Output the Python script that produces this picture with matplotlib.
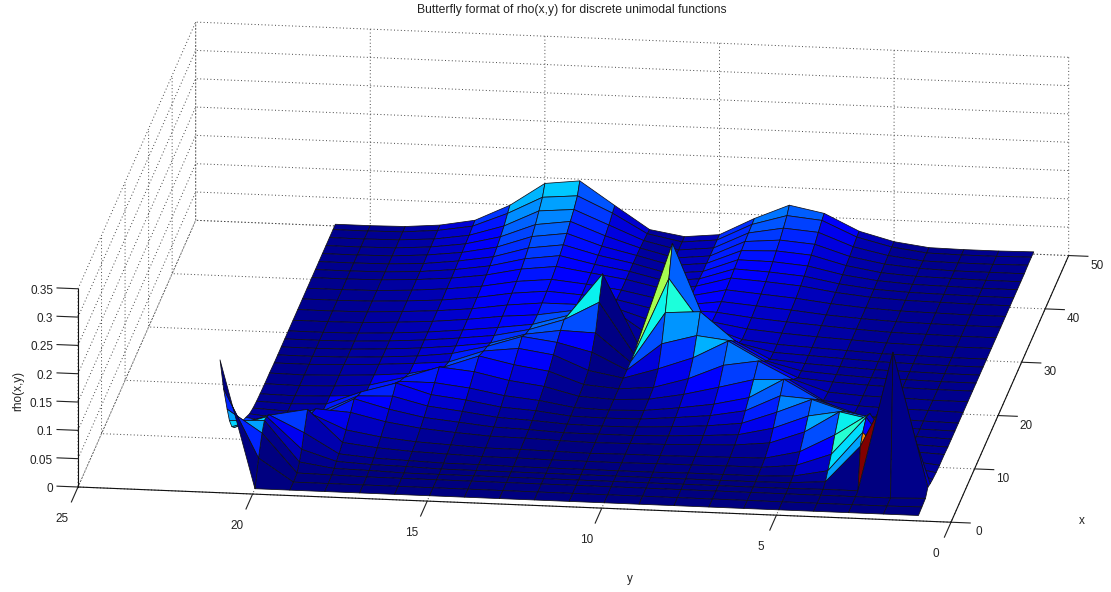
import numpy as np
import matplotlib
matplotlib.use("Agg")
import matplotlib.pyplot as plt
from matplotlib import cm, colors
from matplotlib.transforms import Affine2D
from mpl_toolkits.mplot3d import proj3d

plt.rcParams['font.family'] = ['Liberation Sans', 'DejaVu Sans']

x_rows = [1, 2.5, 4, 5, 6, 7, 8.5, 10,
          12, 13.5, 15, 16.5, 18, 20, 22, 24,
          25.5, 27, 28.5, 30, 32, 34, 36, 38,
          40, 41.5, 43, 44.5, 46, 47.5, 49, 50]
y_cols = list(range(1, 22))

z_y01 = [0, .001, .002, .012, .009, .007, .005, .004,
         .004, .003, .003, .003, .003, .003, .003, .003,
         .003, .003, .003, .003, .003, .003, .003, .003,
         .003, .003, .003, .003, .003, .004, .004, .004]
z_y02 = [0, 0, 0, .248, .19, .03, .015, .010,
         .007, .005, .005, .004, .004, .004, .003, .003,
         .003, .003, .003, .003, .003, .003, .003, .003,
         .003, .003, .003, .003, .003, .003, .003, .003]
z_y03 = [0, 0, 0, .001, .07, .085, .098, .09,
         .06, .048, .02, .008, .006, .005, .005, .004,
         .004, .004, .004, .004, .004, .004, .004, .004,
         .004, .004, .004, .004, .003, .003, .003, .003]
z_y04 = [0, 0, 0, .001, .005, .015, .03, .05,
         .072, .059, .044, .03, .010, .007, .006, .006,
         .005, .005, .005, .005, .005, .005, .005, .005,
         .005, .005, .005, .005, .005, .004, .004, .004]
z_y05 = [0, 0, 0, 0, .001, .003, .008, .018,
         .034, .048, .063, .049, .035, .014, .010, .009,
         .008, .008, .008, .008, .008, .008, .008, .008,
         .008, .008, .009, .009, .010, .011, .012, .012]
z_y06 = [0, 0, 0, 0, 0, .001, .002, .004,
         .012, .024, .038, .053, .068, .049, .03, .014,
         .012, .011, .011, .011, .011, .012, .012, .013,
         .014, .015, .017, .019, .021, .024, .027, .028]
z_y07 = [0, 0, 0, 0, 0, .001, .002, .003,
         .006, .01, .016, .024, .033, .046, .06, .041,
         .027, .016, .014, .014, .015, .016, .018, .02,
         .023, .026, .03, .035, .04, .047, .054, .057]
z_y08 = [0, 0, 0, 0, 0, .001, .001, .002,
         .004, .006, .009, .013, .019, .03, .05, .074,
         .06, .046, .028, .02, .02, .021, .023, .025,
         .028, .031, .035, .04, .045, .052, .06, .069]
z_y09 = [0, 0, 0, 0, 0, 0, .001, .001,
         .002, .003, .005, .007, .01, .015, .024, .042,
         .067, .095, .055, .04, .03, .028, .028, .03,
         .032, .034, .036, .038, .04, .041, .042, .043]
z_y10 = [0, 0, 0, 0, 0, 0, 0, .001,
         .001, .001, .002, .002, .003, .004, .006, .02,
         .05, .091, .137, .185, .07, .03, .02, .017,
         .015, .014, .013, .013, .012, .012, .012, .012]
z_y11 = [0, 0, 0, 0, 0, 0, 0, 0,
         0, .001, .001, .001, .001, .001, .001, .001,
         .001, .001, .001, .006, .01, .011, .011, .01,
         .009, .008, .007, .007, .006, .006, .006, .006]
z_y12 = [0, 0, 0, 0, 0, 0, 0, .001,
         .001, .001, .002, .002, .003, .004, .006, .012,
         .03, .05, .09, .126, .05, .03, .024, .022,
         .022, .022, .022, .022, .021, .02, .018, .016]
z_y13 = [0, 0, 0, 0, 0, 0, .001, .002,
         .003, .004, .006, .009, .013, .019, .027, .037,
         .045, .052, .057, .05, .04, .032, .03, .03,
         .031, .032, .034, .036, .04, .045, .052, .056]
z_y14 = [0, 0, 0, 0, 0, .001, .001, .002,
         .004, .006, .009, .013, .019, .027, .036, .046,
         .053, .043, .037, .032, .03, .032, .034, .036,
         .04, .045, .05, .056, .063, .07, .08, .097]
z_y15 = [0, 0, 0, 0, 0, .001, .003, .005,
         .008, .012, .017, .023, .03, .04, .049, .039,
         .033, .025, .024, .024, .025, .026, .028, .03,
         .033, .037, .042, .048, .055, .065, .075, .09]
z_y16 = [0, 0, 0, 0, .002, .003, .005, .008,
         .013, .018, .024, .03, .037, .046, .027, .017,
         .018, .017, .017, .017, .017, .017, .018, .019,
         .02, .022, .024, .027, .031, .036, .044, .049]
z_y17 = [0, 0, 0, .002, .003, .005, .009, .014,
         .022, .03, .039, .048, .037, .025, .013, .012,
         .011, .011, .011, .011, .011, .011, .011, .012,
         .012, .013, .014, .015, .016, .017, .019, .02]
z_y18 = [0, 0, .001, .003, .006, .01, .016, .024,
         .036, .046, .037, .03, .01, .009, .008, .008,
         .007, .007, .007, .007, .007, .007, .007, .007,
         .007, .007, .007, .008, .008, .008, .009, .009]
z_y19 = [0, 0, .002, .012, .025, .045, .072, .05,
         .04, .014, .008, .006, .006, .005, .005, .005,
         .004, .004, .004, .004, .004, .004, .004, .004,
         .004, .004, .004, .004, .004, .004, .004, .004]
z_y20 = [0, .04, .07, .083, .08, .074, .06, .045,
         .01, .006, .005, .004, .004, .003, .003, .003,
         .003, .003, .003, .003, .003, .003, .003, .003,
         .003, .003, .003, .003, .003, .003, .003, .003]
z_y21 = [.225, .16, .11, .08, .06, .049, .04, .03,
         .02, .012, .008, .006, .005, .004, .004, .003,
         .003, .003, .003, .003, .003, .003, .003, .003,
         .003, .003, .003, .003, .003, .003, .003, .003]

x_ticks = [0, 10, 20, 30, 40, 50]
y_ticks = [0, 5, 10, 15, 20, 25]
z_ticks = [0, 0.05, 0.1, 0.15, 0.2, 0.25, 0.3, 0.35]
z_labels = ['0', '0.05', '0.1', '0.15', '0.2', '0.25', '0.3', '0.35']

Z = np.array([z_y01, z_y02, z_y03, z_y04, z_y05, z_y06, z_y07, z_y08, z_y09, z_y10, z_y11,
              z_y12, z_y13, z_y14, z_y15, z_y16, z_y17, z_y18, z_y19, z_y20, z_y21]).T
Y, X = np.meshgrid(y_cols, x_rows)

W, H = 1111, 592
fig = plt.figure(figsize=(W / 100, H / 100), dpi=100, facecolor='white')
S = 1500.0
pos = [(W - S) / 2 / W, (H - S) / 2 / H, S / W, S / H]
ax = fig.add_axes(pos, projection='3d', proj_type='ortho')
ax.set_facecolor('none')
ax.patch.set_visible(False)
ax.view_init(elev=17.6, azim=187.6)
ax.set_xlim(0, 50, view_margin=0)
ax.set_ylim(0, 25, view_margin=0)
ax.set_zlim(0, 0.35, view_margin=0)
aspect = (884, 875, 206.6)
ax.set_box_aspect(aspect, zoom=1.0)

norm = colors.Normalize(0, Z.max())
ax.plot_surface(X, Y, Z, rstride=1, cstride=1, facecolors=cm.jet(norm(Z)), shade=False,
                edgecolor='#101018', linewidth=0.55, antialiased=True)

ax.set_xticks(x_ticks)
ax.set_yticks(y_ticks)
ax.set_zticks(z_ticks)
ax.set_xticklabels([str(v) for v in x_ticks])
ax.set_yticklabels([str(v) for v in y_ticks])
ax.set_zticklabels(z_labels)

ax.zaxis._get_tickdir = lambda pos: 1  # z ticks run along y, horizontally on screen

for axis, pad, fac in ((ax.xaxis, 7, -0.275), (ax.yaxis, 9, -0.7), (ax.zaxis, 9, 0.3)):
    axis.set_pane_color((1, 1, 1, 0))
    axis.pane.set_edgecolor((1, 1, 1, 0))
    axis.line.set_color('#111111')
    axis.line.set_linewidth(0.8)
    axis._axinfo['grid'].update(color='#444444', linestyle=(0, (1, 2.5)), linewidth=0.7)
    axis._axinfo['tick'].update(inward_factor=0.0, outward_factor=fac, linewidth={True: 0.8, False: 0.8})
    axis.set_tick_params(labelsize=8.5, pad=pad, colors='#222222')
ax.zaxis.set_ticks_position('upper')


def nudge(axis, dx, dy, **kw):
    shift = Affine2D().translate(dx, dy)
    for lab in axis.get_ticklabels():
        base = lab.get_transform
        lab.get_transform = lambda base=base: base() + shift
        lab.set(**kw)


nudge(ax.xaxis, 5, 2)
nudge(ax.yaxis, -12, -12)
nudge(ax.zaxis, 5, 11, ha='right')

TEXT = '#222222'
fig.suptitle('Butterfly format of rho(x,y) for discrete unimodal functions', x=572 / W, y=1 - 10.5 / H,
             fontsize=8.7, color=TEXT, va='center', ha='center')
fig.text(1082 / W, 1 - 521 / H, 'x', fontsize=8.5, color=TEXT, ha='center', va='center')
fig.text(630 / W, 1 - 579 / H, 'y', fontsize=8.5, color=TEXT, ha='center', va='center')
fig.text(18 / W, 1 - 391 / H, 'rho(x,y)', fontsize=8.5, color=TEXT, ha='center', va='center', rotation=90)


def corner(px, py, pz):
    fig.canvas.draw()
    u, v, _ = proj3d.proj_transform(px, py, pz, ax.get_proj())
    a, b = ax.transData.transform((u, v))
    return a, H - b


# fit the box onto the reference's frame: (y=25, x=0) at (78, 487), (y=0, x=0) at (951, 521.5)
a0 = corner(0, 25, 0)
a1 = corner(0, 0, 0)
ax.set_box_aspect(aspect, zoom=873.0 / (a1[0] - a0[0]))
a0 = corner(0, 25, 0)
pos[0] += (78 - a0[0]) / W
pos[1] -= (487 - a0[1]) / H
ax.set_position(pos)

fig.savefig('out.png', dpi=100, facecolor='white')
